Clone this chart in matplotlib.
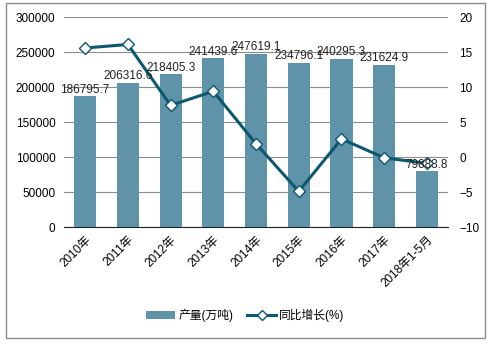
import matplotlib.pyplot as plt
import numpy as np

plt.rcParams['font.family'] = ['Liberation Sans', 'Noto Sans CJK SC', 'DejaVu Sans']

years = ['2010年', '2011年', '2012年', '2013年', '2014年', '2015年', '2016年', '2017年', '2018年1-5月']
output = [186795.7, 206316.6, 218405.3, 241439.6, 247619.1, 234796.1, 240295.3, 231624.9, 79883.8]
growth = [15.6, 16.1, 7.4, 9.4, 1.9, -4.9, 2.6, -0.1, -0.9]

bar_color = '#5f93aa'
line_color = '#0b5870'


def main():
    fig = plt.figure(figsize=(4.91, 3.44), dpi=100)
    ax = fig.add_axes([0.130, 0.340, 0.783, 0.610])
    x = np.arange(len(years))

    ax.bar(x, output, width=0.52, color=bar_color, zorder=2, label='产量(万吨)')

    ax.set_ylim(0, 300000)
    ax.set_yticks(range(0, 300001, 50000))
    ax.set_xlim(-0.5, len(years) - 0.5)
    ax.grid(axis='y', color='#8c8c8c', linewidth=0.8, zorder=0)
    ax.set_axisbelow(True)
    ax.set_xticks(x)
    ax.set_xticklabels(years, rotation=45, ha='right', rotation_mode='anchor', fontsize=8.5)
    for s in ['top', 'right', 'left']:
        ax.spines[s].set_visible(False)
    ax.spines['bottom'].set_color('#222222')
    ax.tick_params(length=0, labelsize=8.5, pad=6)
    ax.tick_params(axis='x', pad=5)

    ax2 = ax.twinx()
    ax2.plot(x, growth, color=line_color, linewidth=2.2, marker='D', markersize=6.5,
             markerfacecolor='white', markeredgecolor=line_color, markeredgewidth=1.0,
             zorder=3, label='同比增长(%)')
    ax2.set_ylim(-10, 20)
    ax2.set_yticks(range(-10, 21, 5))
    for s in ['top', 'right', 'left', 'bottom']:
        ax2.spines[s].set_visible(False)
    ax2.tick_params(length=0, labelsize=8.5, pad=8)

    # bar value labels, drawn on top of the line
    for xi, v in zip(x, output):
        ax2.text(xi, v + 9500, f'{v:.1f}', transform=ax.transData, ha='center', va='center',
                 fontsize=8.5, color='#222222', zorder=5)

    h1, l1 = ax.get_legend_handles_labels()
    h2, l2 = ax2.get_legend_handles_labels()
    fig.legend(h1 + h2, l1 + l2, loc='center', bbox_to_anchor=(0.5, 0.083), ncol=2,
               frameon=False, fontsize=8.5, handlelength=2.4, columnspacing=1.2,
               handletextpad=0.3, markerscale=0.75)

    fig.patches.append(plt.Rectangle((0.012, 0.018), 0.976, 0.972, transform=fig.transFigure,
                                     fill=False, edgecolor='#8c8c8c', linewidth=1.0))

    fig.savefig('out.png', dpi=100)


if __name__ == '__main__':
    main()
